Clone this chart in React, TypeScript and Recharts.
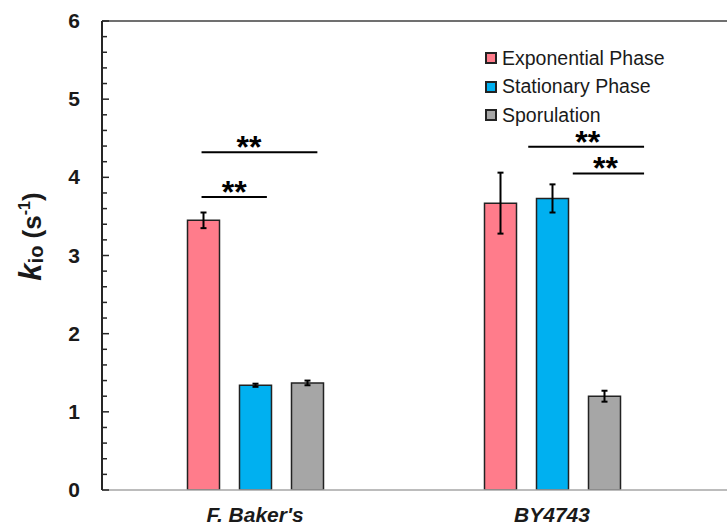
import React from 'react'
import {
  ComposedChart,
  Bar,
  Scatter,
  XAxis,
  YAxis,
  ErrorBar,
  ReferenceLine,
  Legend,
} from 'recharts'

const strains = ["F. Baker's", 'BY4743']
const seriesNames = ['Exponential Phase', 'Stationary Phase', 'Sporulation']
const exponential = [3.45, 3.67]
const exponentialErr = [0.1, 0.39]
const stationary = [1.34, 3.73]
const stationaryErr = [0.02, 0.18]
const sporulation = [1.37, 1.2]
const sporulationErr = [0.03, 0.07]
const yTicks = [0, 1, 2, 3, 4, 5, 6]

// significance brackets, x in strain units (0 = first strain, 1 = second)
const sigFrom = [-0.18, -0.18, 0.92, 1.07]
const sigTo = [0.21, 0.04, 1.31, 1.31]
const sigY = [4.32, 3.75, 4.39, 4.05]
const sigStarX = [-0.02, -0.07, 1.12, 1.18]
const sigLabel = ['**', '**', '**', '**']

const data = strains.map((s, i) => ({
  strain: s,
  exp: exponential[i],
  expErr: exponentialErr[i],
  stat: stationary[i],
  statErr: stationaryErr[i],
  spor: sporulation[i],
  sporErr: sporulationErr[i],
}))

const starData = sigStarX.map((x, i) => ({ x, y: sigY[i], label: sigLabel[i] }))

// minor ticks every 0.2
const allTicks: number[] = []
for (let i = 0; i <= yTicks[yTicks.length - 1] * 5; i++) allTicks.push(Math.round(i * 2) / 10)

const FONT = '"Liberation Sans", Arial, sans-serif'
const TXT = '#1a1a1a'

function YTick({ x, y, payload }: any) {
  const v = payload.value
  const major = Number.isInteger(v)
  return (
    <g>
      <line x1={x} x2={x + (major ? 7 : 5)} y1={y} y2={y} stroke="#262626" strokeWidth={1.5} />
      {major && (
        <text x={x - 22} y={y} dy={7} textAnchor="end" fontFamily={FONT} fontWeight="bold" fontSize={21} fill={TXT}>
          {v}
        </text>
      )}
    </g>
  )
}

function XTick({ x, y, payload }: any) {
  return (
    <text x={x} y={y + 32} textAnchor="middle" fontFamily={FONT} fontWeight="bold" fontStyle="italic" fontSize={21} fill={TXT}>
      {payload.value}
    </text>
  )
}

function YLabel({ viewBox }: any) {
  const cx = viewBox.x + 41
  const cy = viewBox.y + viewBox.height / 2 - 19
  return (
    <text
      transform={`translate(${cx},${cy}) rotate(-90)`}
      textAnchor="middle"
      fontFamily={FONT}
      fontWeight="bold"
      fill={TXT}
      fontSize={26}
    >
      <tspan fontStyle="italic" fontSize={31}>k</tspan>
      <tspan fontSize={20} dy={2}>io</tspan>
      <tspan dy={-2}> (s</tspan>
      <tspan fontSize={16} dy={-11}>-1</tspan>
      <tspan dy={11}>)</tspan>
    </text>
  )
}

function LegendBox({ payload }: any) {
  const items = seriesNames
    .map((n) => (payload || []).find((p: any) => p.value === n))
    .filter(Boolean)
  return (
    <div style={{ fontFamily: FONT, fontSize: 19.5, color: TXT }}>
      {items.map((p: any) => (
        <div key={p.value} style={{ display: 'flex', alignItems: 'center', height: 28.5 }}>
          <span
            style={{
              width: 8,
              height: 8,
              background: p.color,
              border: '2px solid #222',
              marginRight: 5,
              display: 'inline-block',
            }}
          />
          <span>{p.value}</span>
        </div>
      ))}
    </div>
  )
}

function Stars(props: any) {
  const { cx, cy, payload } = props
  return (
    <text x={cx} y={cy + 6} textAnchor="middle" fontFamily={FONT} fontWeight="bold" fontSize={32} fill="#000">
      {payload.label}
    </text>
  )
}

const noDot = () => <g />

export default function App() {
  return (
    <div style={{ position: 'relative', width: 727, height: 527, background: '#fff' }}>
      <style>{'body{margin:0}'}</style>
      <ComposedChart
        width={727}
        height={527}
        data={data}
        margin={{ top: 21, right: 0, bottom: 7, left: 0 }}
        barSize={32}
        barGap={20}
      >
        <XAxis
          dataKey="strain"
          height={30}
          padding={{ left: 4.5, right: 26.5 }}
          axisLine={{ stroke: '#a6a6a6', strokeWidth: 1.5 }}
          tickLine={false}
          tickSize={0}
          tickMargin={0}
          tick={<XTick />}
        />
        <XAxis
          xAxisId="idx"
          dataKey="x"
          type="number"
          domain={[-0.5, 1.5]}
          allowDataOverflow
          padding={{ left: 4.5, right: 26.5 }}
          hide
        />
        <YAxis
          width={102}
          domain={[0, 6]}
          ticks={allTicks}
          interval={0}
          allowDataOverflow
          axisLine={{ stroke: '#262626', strokeWidth: 2 }}
          tickLine={false}
          tickSize={0}
          tickMargin={0}
          tick={<YTick />}
          label={{ content: <YLabel /> }}
        />
        <ReferenceLine y={6} stroke="#404040" strokeWidth={1.5} />
        <Legend
          layout="horizontal"
          verticalAlign="middle"
          align="center"
          content={<LegendBox />}
          wrapperStyle={{ position: 'absolute', left: 485, top: 44, width: 240, height: 90 }}
        />
        <Bar dataKey="exp" name={seriesNames[0]} fill="#ff7c8b" stroke="#222" strokeWidth={1.5} isAnimationActive={false}>
          <ErrorBar dataKey="expErr" width={3} stroke="#000" strokeWidth={2} />
        </Bar>
        <Bar dataKey="stat" name={seriesNames[1]} fill="#00b0f0" stroke="#222" strokeWidth={1.5} isAnimationActive={false}>
          <ErrorBar dataKey="statErr" width={3} stroke="#000" strokeWidth={2} />
        </Bar>
        <Bar dataKey="spor" name={seriesNames[2]} fill="#a6a6a6" stroke="#222" strokeWidth={1.5} isAnimationActive={false}>
          <ErrorBar dataKey="sporErr" width={3} stroke="#000" strokeWidth={2} />
        </Bar>
        {sigY.map((y, i) => (
          <Scatter
            key={'b' + i}
            xAxisId="idx"
            dataKey="y"
            data={[
              { x: sigFrom[i], y },
              { x: sigTo[i], y },
            ]}
            line={{ stroke: '#000', strokeWidth: 2 }}
            shape={noDot}
            legendType="none"
            isAnimationActive={false}
          />
        ))}
        <Scatter
          xAxisId="idx"
          dataKey="y"
          data={starData}
          shape={<Stars />}
          legendType="none"
          isAnimationActive={false}
        />
      </ComposedChart>
    </div>
  )
}
